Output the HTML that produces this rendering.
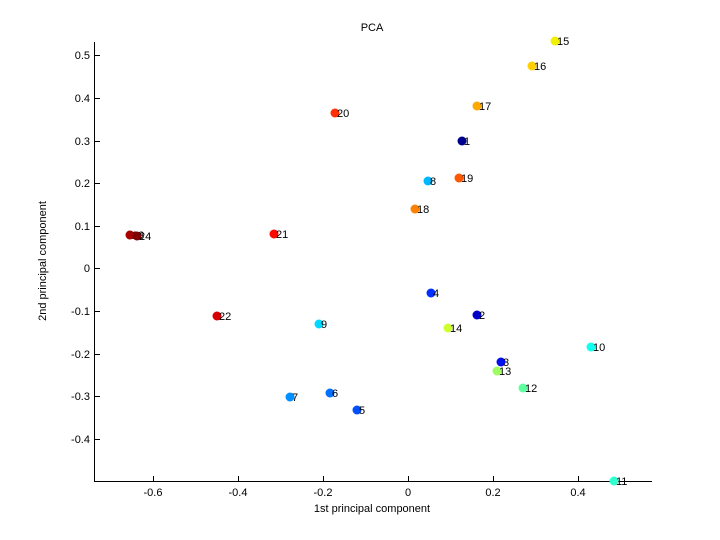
<!DOCTYPE html>
<html><head><meta charset="utf-8"><style>
html,body{margin:0;padding:0;background:#fff;}
svg{display:block;}
text{font-family:"Liberation Sans",sans-serif;font-size:11px;fill:#000;}
</style></head><body>
<svg width="720" height="540" viewBox="0 0 720 540" xmlns="http://www.w3.org/2000/svg">
<rect width="720" height="540" fill="#fff"/>
<g stroke="#000" stroke-width="1" fill="none">
<line x1="94.5" y1="42" x2="94.5" y2="481.5"/>
<line x1="94" y1="481.5" x2="652" y2="481.5"/>
<line x1="153.5" y1="481" x2="153.5" y2="476"/>
<line x1="238.5" y1="481" x2="238.5" y2="476"/>
<line x1="323.5" y1="481" x2="323.5" y2="476"/>
<line x1="408.5" y1="481" x2="408.5" y2="476"/>
<line x1="493.5" y1="481" x2="493.5" y2="476"/>
<line x1="578.5" y1="481" x2="578.5" y2="476"/>
<line x1="95" y1="55.5" x2="100" y2="55.5"/>
<line x1="95" y1="98.5" x2="100" y2="98.5"/>
<line x1="95" y1="141.5" x2="100" y2="141.5"/>
<line x1="95" y1="183.5" x2="100" y2="183.5"/>
<line x1="95" y1="226.5" x2="100" y2="226.5"/>
<line x1="95" y1="268.5" x2="100" y2="268.5"/>
<line x1="95" y1="311.5" x2="100" y2="311.5"/>
<line x1="95" y1="354.5" x2="100" y2="354.5"/>
<line x1="95" y1="396.5" x2="100" y2="396.5"/>
<line x1="95" y1="439.5" x2="100" y2="439.5"/>
</g>
<g text-anchor="middle">
<text x="153" y="496">-0.6</text><text x="238" y="496">-0.4</text><text x="323" y="496">-0.2</text>
<text x="408" y="496">0</text><text x="493" y="496">0.2</text><text x="578" y="496">0.4</text>
</g>
<g text-anchor="end">
<text x="90" y="59">0.5</text><text x="90" y="102">0.4</text><text x="90" y="145">0.3</text>
<text x="90" y="187">0.2</text><text x="90" y="230">0.1</text><text x="90" y="272">0</text>
<text x="90" y="315">-0.1</text><text x="90" y="358">-0.2</text><text x="90" y="400">-0.3</text>
<text x="90" y="443">-0.4</text>
</g>
<text x="372" y="31" text-anchor="middle">PCA</text>
<text x="372" y="512" text-anchor="middle">1st principal component</text>
<text transform="translate(46,261) rotate(-90)" text-anchor="middle">2nd principal component</text>
<g>
<circle cx="462" cy="141" r="4.5" fill="#000090"/><text x="464" y="145">1</text>
<circle cx="477" cy="315" r="4.5" fill="#0000c8"/><text x="479" y="319">2</text>
<circle cx="501" cy="362" r="4.5" fill="#0010f0"/><text x="503" y="366">3</text>
<circle cx="431" cy="293" r="4.5" fill="#0030ff"/><text x="433" y="297">4</text>
<circle cx="357" cy="410" r="4.5" fill="#0050ff"/><text x="359" y="414">5</text>
<circle cx="330" cy="393" r="4.5" fill="#0070ff"/><text x="332" y="397">6</text>
<circle cx="290" cy="397" r="4.5" fill="#0090ff"/><text x="292" y="401">7</text>
<circle cx="428" cy="181" r="4.5" fill="#00b8ff"/><text x="430" y="185">8</text>
<circle cx="319" cy="324" r="4.5" fill="#00d8ff"/><text x="321" y="328">9</text>
<circle cx="591" cy="347" r="4.5" fill="#10ffef"/><text x="593" y="351">10</text>
<circle cx="614" cy="481" r="4.5" fill="#30ffcf"/><text x="616" y="485">11</text>
<circle cx="523" cy="388" r="4.5" fill="#60ff9f"/><text x="525" y="392">12</text>
<circle cx="497" cy="371" r="4.5" fill="#a0ff60"/><text x="499" y="375">13</text>
<circle cx="448" cy="328" r="4.5" fill="#d0ff30"/><text x="450" y="332">14</text>
<circle cx="555" cy="41" r="4.5" fill="#f0f000"/><text x="557" y="45">15</text>
<circle cx="532" cy="66" r="4.5" fill="#ffd000"/><text x="534" y="70">16</text>
<circle cx="477" cy="106" r="4.5" fill="#ffa800"/><text x="479" y="110">17</text>
<circle cx="415" cy="209" r="4.5" fill="#ff8000"/><text x="417" y="213">18</text>
<circle cx="459" cy="178" r="4.5" fill="#ff5800"/><text x="461" y="182">19</text>
<circle cx="335" cy="113" r="4.5" fill="#ff3000"/><text x="337" y="117">20</text>
<circle cx="274" cy="234" r="4.5" fill="#ff0800"/><text x="276" y="238">21</text>
<circle cx="217" cy="316" r="4.5" fill="#d80000"/><text x="219" y="320">22</text>
<circle cx="130" cy="235" r="4.5" fill="#a80000"/><text x="132" y="239">23</text>
<circle cx="137" cy="236" r="4.5" fill="#800000"/><text x="139" y="240">24</text>
</g>
</svg>
</body></html>
